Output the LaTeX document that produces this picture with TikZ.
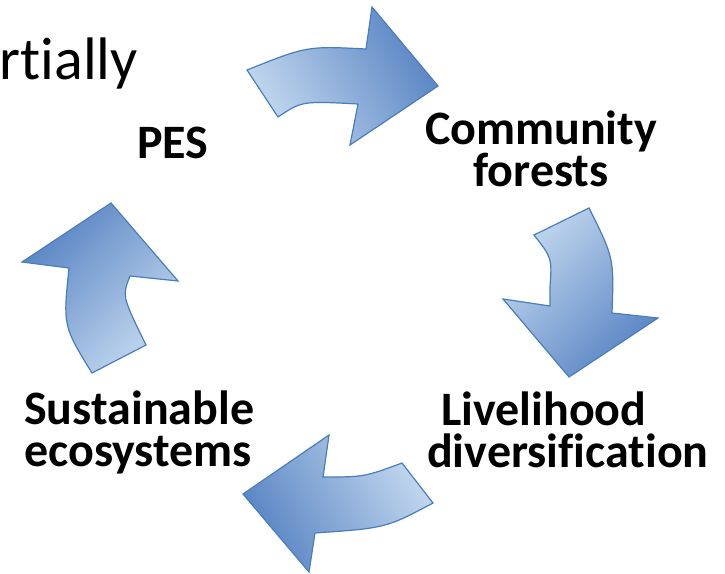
\documentclass[tikz,border=0pt]{standalone}
\usepackage{fontspec}
\setmainfont{Carlito}[Ligatures=NoCommon]
\definecolor{lightblue}{HTML}{C3D8EF}
\definecolor{darkblue}{HTML}{5884C3}
\definecolor{arrowline}{HTML}{4A7EBB}
\begin{document}
\begin{tikzpicture}[x=1pt,y=-1pt,
  arr/.style={draw=arrowline, line width=1.2pt, line join=miter,
    left color=lightblue, right color=darkblue},
  lbl/.style={inner sep=0pt, font=\fontsize{48}{41.5}\selectfont\bfseries},
  big/.style={inner sep=0pt, font=\fontsize{60}{66}\selectfont}]
\clip (0,0) rectangle (725,573);
\fill[white] (0,0) rectangle (725,573);
% top arrow
\shadedraw[arr, shading angle=120]
  (247,70) .. controls (307,46) .. (366,49) -- (372,7) -- (438,86) -- (350,145) -- (358,104)
  .. controls (302,101) .. (278,117) -- cycle;
% right arrow
\shadedraw[arr, shading angle=45]
  (534,235) -- (589,208) .. controls (614,258) .. (612,313) -- (658,318) -- (569,377)
  -- (503,299) -- (550,306) -- (550,287) .. controls (552,258) .. cycle;
% bottom arrow
\shadedraw[arr, shading angle=300]
  (402,463) -- (433,503) .. controls (386,528) .. (315,533) -- (309,572) -- (243,494)
  -- (329,435) -- (323,477) .. controls (364,477) .. cycle;
% left arrow
\shadedraw[arr, shading angle=225]
  (92,373) .. controls (63,326) .. (69,268) -- (22,262) -- (111,203) -- (178,281)
  -- (130,276) .. controls (122,296) .. (146,345) -- cycle;
% texts
\node[big, anchor=base east] (partial) at (138,79) {rtially};
\node[lbl, anchor=base west] (pes) at (137,158) {PES};
\node[lbl, anchor=base, align=center] (comm) at (541,186) {Community\\forests};
\node[lbl, anchor=base west, align=left] (live) at (427,467) {\hspace*{14pt}Livelihood\\diversification};
\node[lbl, anchor=base west, align=left] (sus) at (24,466) {Sustainable\\ecosystems};
\end{tikzpicture}
\end{document}
